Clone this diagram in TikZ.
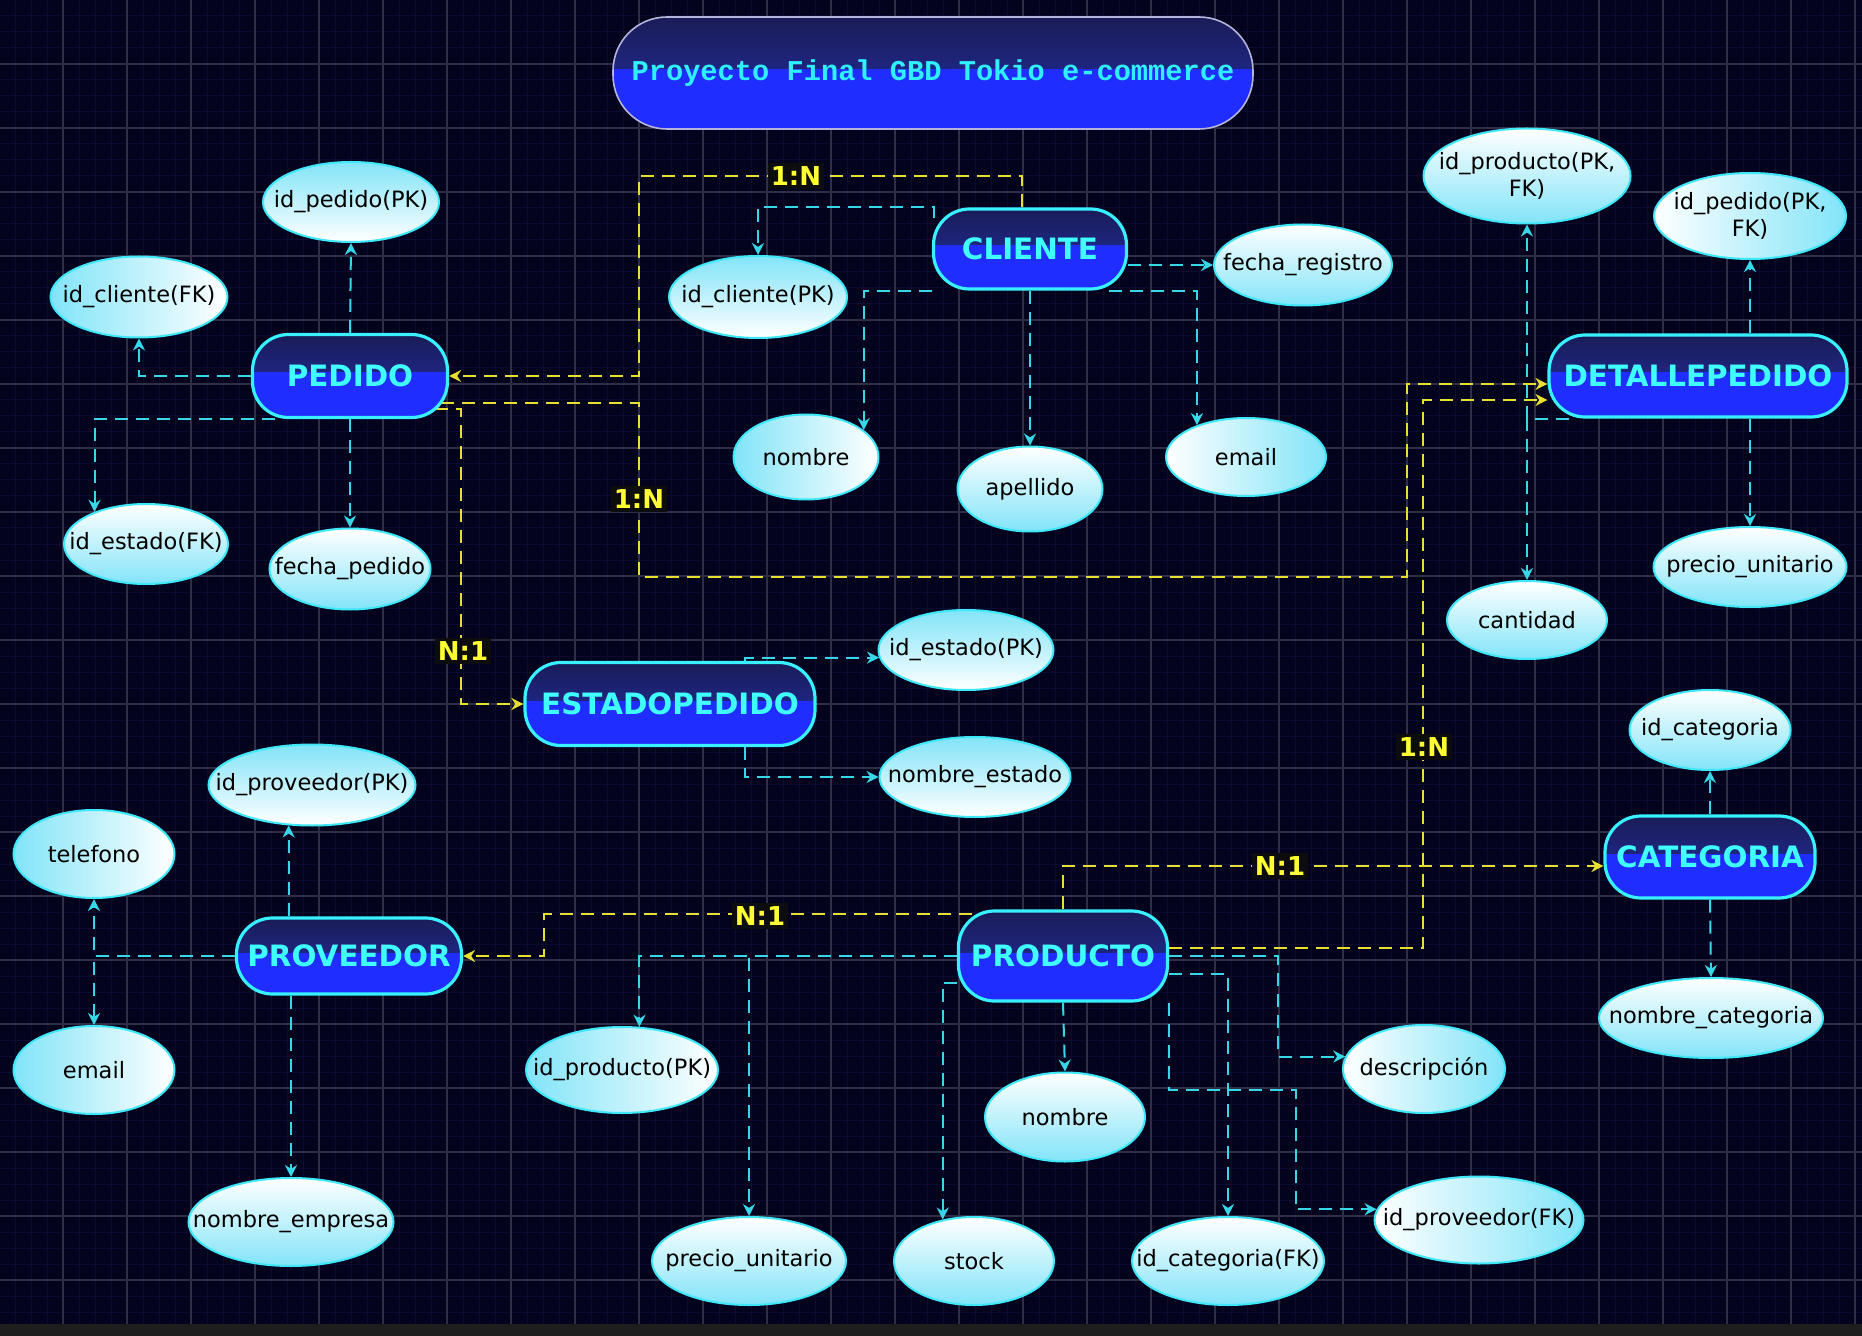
\documentclass[tikz,border=0pt]{standalone}
\usepackage{fontspec}
\setmainfont{DejaVu Sans}
\newfontfamily\monofuente{Liberation Mono}
\usetikzlibrary{shapes.geometric,arrows.meta,calc}

\definecolor{fondo}{HTML}{03031E}
\definecolor{gridfuerte}{HTML}{2E2E46}
\definecolor{gridsuave}{HTML}{0C0C32}
\definecolor{barra}{HTML}{1E1E1E}
\definecolor{entazul}{HTML}{1F2DFF}
\definecolor{entarriba}{HTML}{1A1C58}
\definecolor{entmedio}{HTML}{2430AC}
\definecolor{entborde}{HTML}{38F0FF}
\definecolor{enttexto}{HTML}{40FFFF}
\definecolor{cianattr}{HTML}{82E4F8}
\definecolor{bordeattr}{HTML}{3EE8F8}
\definecolor{enlacecian}{HTML}{36D8E8}
\definecolor{enlaceamarillo}{HTML}{E8E030}
\definecolor{textoamarillo}{HTML}{FFFF33}
\definecolor{bordetitulo}{HTML}{B4B4DC}
\definecolor{textotitulo}{HTML}{30F0FF}

\pgfdeclarelayer{capagrid}
\pgfdeclarelayer{capaenlaces}
\pgfsetlayers{capagrid,capaenlaces,main}

\tikzset{
  brillo/.style={path picture={\shade[top color=entarriba, bottom color=entmedio, sharp corners]
      (path picture bounding box.north west) rectangle ([yshift=2pt]path picture bounding box.east);}},
  entidad/.style={rectangle, rounded corners=18pt, fill=entazul, draw=entborde, line width=1.6pt,
      text=enttexto, inner sep=2pt, font=\bfseries\fontsize{14.7pt}{16pt}\selectfont, brillo},
  cajatitulo/.style={rectangle, rounded corners=27pt, fill=entazul, draw=bordetitulo, line width=0.8pt,
      text=textotitulo, font=\monofuente\bfseries\fontsize{14.35pt}{16pt}\selectfont, brillo},
  atributo/.style={ellipse, draw=bordeattr, line width=1pt, inner xsep=-30pt, inner ysep=-12pt,
      text=black, align=center, font=\fontsize{11.25pt}{13.5pt}\selectfont},
  dim/.style 2 args={minimum width=#1, minimum height=#2},
  cianarriba/.style={top color=cianattr, bottom color=white},
  cianabajo/.style={top color=white, bottom color=cianattr},
  cianizq/.style={left color=cianattr, right color=white},
  ciander/.style={left color=white, right color=cianattr},
  enlace/.style={draw=enlacecian, line width=1pt, dash pattern=on 6.5pt off 4pt,
      -{Stealth[length=6pt,width=6pt]}},
  relacion/.style={draw=enlaceamarillo, line width=1pt, dash pattern=on 6.5pt off 4pt,
      -{Stealth[length=6pt,width=6pt]}},
  etiqueta/.style={fill=black!95, text=textoamarillo, inner xsep=1.5pt, inner ysep=2pt,
      font=\bfseries\fontsize{13pt}{13pt}\selectfont}
}

\begin{document}
\begin{tikzpicture}[x=0.5pt,y=-0.5pt]
  \useasboundingbox (0,0) rectangle (1862,1336);

  % Fondo y cuadricula
  \begin{pgfonlayer}{capagrid}
    \fill[fondo] (0,0) rectangle (1862,1336);
    \foreach \gx in {15,31,...,1855}
      \draw[gridsuave, line width=0.5pt] (\gx,0) -- (\gx,1324);
    \foreach \gy in {16,32,...,1312}
      \draw[gridsuave, line width=0.5pt] (0,\gy) -- (1862,\gy);
    \foreach \gx in {63,127,...,1855}
      \draw[gridfuerte, line width=0.6pt] (\gx,0) -- (\gx,1324);
    \foreach \gy in {64,128,...,1280}
      \draw[gridfuerte, line width=0.6pt] (0,\gy) -- (1862,\gy);
    \fill[barra] (0,1324) rectangle (1862,1336);
  \end{pgfonlayer}

  % Titulo
  \node[cajatitulo, dim={320pt}{56pt}] (titulo) at (933,73) {Proyecto Final GBD Tokio e-commerce};

  % Entidades
  \node[entidad, dim={96.5pt}{40pt}] (cliente) at (1030,249) {CLIENTE};
  \node[entidad, dim={97.5pt}{41.5pt}] (pedido) at (350,376) {PEDIDO};
  \node[entidad, dim={149pt}{41pt}] (detallepedido) at (1698,376) {DETALLEPEDIDO};
  \node[entidad, dim={145pt}{41.5pt}] (estadopedido) at (670,704) {ESTADOPEDIDO};
  \node[entidad, dim={105pt}{41pt}] (categoria) at (1710,857) {CATEGORIA};
  \node[entidad, dim={112.5pt}{38pt}] (proveedor) at (349,956) {PROVEEDOR};
  \node[entidad, dim={104.5pt}{45pt}] (producto) at (1063,956) {PRODUCTO};

  % Atributos de PEDIDO
  \node[atributo, cianarriba, dim={88pt}{40pt}] (idpedidopk) at (351,202) {id\_pedido(PK)};
  \node[atributo, cianizq, dim={88.5pt}{40.5pt}] (idclientefk) at (139,297) {id\_cliente(FK)};
  \node[atributo, cianabajo, dim={82pt}{40pt}] (idestadofk) at (146,544) {id\_estado(FK)};
  \node[atributo, cianabajo, dim={80.5pt}{40.5pt}] (fechapedido) at (350,569) {fecha\_pedido};

  % Atributos de CLIENTE
  \node[atributo, cianarriba, dim={89pt}{41pt}] (idclientepk) at (758,297) {id\_cliente(PK)};
  \node[atributo, cianizq, dim={72.5pt}{42.5pt}] (nombrecli) at (806,457) {nombre};
  \node[atributo, cianabajo, dim={72.5pt}{42.5pt}] (apellido) at (1030,489) {apellido};
  \node[atributo, ciander, dim={80pt}{39pt}] (emailcli) at (1246,457) {email};
  \node[atributo, cianabajo, dim={89pt}{40.5pt}] (fecharegistro) at (1303,265) {fecha\_registro};

  % Atributos de DETALLEPEDIDO
  \node[atributo, cianabajo, dim={103.5pt}{47.5pt}] (idproductofk) at (1527,176) {id\_producto(PK,\\FK)};
  \node[atributo, ciander, dim={96pt}{43pt}] (idpedidofk) at (1750,216) {id\_pedido(PK,\\FK)};
  \node[atributo, cianabajo, dim={80pt}{39pt}] (cantidad) at (1527,620) {cantidad};
  \node[atributo, cianabajo, dim={96.5pt}{40pt}] (preciodet) at (1750,567) {precio\_unitario};

  % Atributos de ESTADOPEDIDO
  \node[atributo, cianarriba, dim={87.5pt}{40pt}] (idestadopk) at (966,650) {id\_estado(PK)};
  \node[atributo, cianarriba, dim={95.5pt}{40pt}] (nombreestado) at (975,777) {nombre\_estado};

  % Atributos de CATEGORIA
  \node[atributo, cianabajo, dim={80.5pt}{40pt}] (idcategoria) at (1710,730) {id\_categoria};
  \node[atributo, cianabajo, dim={112pt}{40pt}] (nombrecategoria) at (1711,1018) {nombre\_categoria};

  % Atributos de PROVEEDOR
  \node[atributo, cianarriba, dim={103.5pt}{40.5pt}] (idproveedorpk) at (312,785) {id\_proveedor(PK)};
  \node[atributo, cianizq, dim={80.5pt}{44pt}] (telefono) at (94,854) {telefono};
  \node[atributo, cianizq, dim={80.5pt}{44pt}] (emailprov) at (94,1070) {email};
  \node[atributo, cianabajo, dim={102.5pt}{44pt}] (nombreempresa) at (291,1222) {nombre\_empresa};

  % Atributos de PRODUCTO
  \node[atributo, cianizq, dim={96pt}{43pt}] (idproductopk) at (622,1070) {id\_producto(PK)};
  \node[atributo, cianabajo, dim={97pt}{44pt}] (precioprod) at (749,1261) {precio\_unitario};
  \node[atributo, cianabajo, dim={80pt}{44pt}] (stock) at (974,1261) {stock};
  \node[atributo, cianabajo, dim={80pt}{44.5pt}] (nombreprod) at (1065,1117) {nombre};
  \node[atributo, cianabajo, dim={96pt}{44pt}] (idcategoriafk) at (1228,1261) {id\_categoria(FK)};
  \node[atributo, ciander, dim={81pt}{44pt}] (descripcion) at (1424,1069) {descripción};
  \node[atributo, ciander, dim={104.5pt}{43.5pt}] (idproveedorfk) at (1479,1220) {id\_proveedor(FK)};

  % Puntos de quiebre de las relaciones
  \coordinate (quiebreA) at (639,176);
  \coordinate (quiebreB) at (639,577);
  \coordinate (quiebreC) at (1407,384);
  \coordinate (quiebreD) at (1423,400);

  \begin{pgfonlayer}{capaenlaces}
    % Enlaces a atributos
    \draw[enlace] (pedido.north) -- (idpedidopk.south);
    \draw[enlace] (pedido.west) -| (idclientefk.south);
    \draw[enlace] ($(pedido.south)+(-75,0)$) -| (idestadofk.148);
    \draw[enlace] (pedido.south) -- (fechapedido.north);

    \draw[enlace] ($(cliente.north west)+(2,11)$) -- ($(cliente.north west)+(2,0)$) -| (idclientepk.north);
    \draw[enlace] (cliente.south west) -| (nombrecli.25);
    \draw[enlace] (cliente.south) -- (apellido.north);
    \draw[enlace] ($(cliente.south east)+(-19,0)$) -| (emailcli.147);
    \draw[enlace] (cliente.east |- fecharegistro.west) -- (fecharegistro.west);

    \draw[enlace] ($(detallepedido.south west)+(22,0)$) -| (idproductofk.south);
    \draw[enlace] ($(detallepedido.south west)+(22,0)$) -| (cantidad.north);
    \draw[enlace] (detallepedido.north -| idpedidofk.south) -- (idpedidofk.south);
    \draw[enlace] (detallepedido.south -| preciodet.north) -- (preciodet.north);

    \draw[enlace] ($(estadopedido.north east)+(-72,0)$) |- (idestadopk.185);
    \draw[enlace] ($(estadopedido.south east)+(-72,0)$) |- (nombreestado.west);

    \draw[enlace] (categoria.north) -- (idcategoria.south);
    \draw[enlace] (categoria.south) -- (nombrecategoria.north);

    \draw[enlace] (proveedor.north -| idproveedorpk.-120) -- (idproveedorpk.-120);
    \draw[enlace] (proveedor.west) -| (telefono.south);
    \draw[enlace] (proveedor.west) -| (emailprov.north);
    \draw[enlace] (proveedor.south -| nombreempresa.north) -- (nombreempresa.north);

    \draw[enlace] (producto.west) -| (idproductopk.68);
    \draw[enlace] (producto.west) -| (precioprod.north);
    \draw[enlace] ($(producto.south west)+(0,-20)$) -| (stock.127);
    \draw[enlace] (producto.south) -- (nombreprod.north);
    \draw[enlace] (producto.east) -| ($(descripcion.171)+(-67,0)$) -- (descripcion.171);
    \draw[enlace] ($(producto.east)+(0,18)$) -| (idcategoriafk.north);
    \draw[enlace] (producto.south east) |- ($(idproveedorfk.174)+(-81,-119)$) |- (idproveedorfk.174);

    % Relaciones
    \draw[relacion] ($(cliente.north)+(-8,0)$) |- (quiebreA) |- (pedido.east);
    \draw[relacion] ($(pedido.south east)+(-8,-16)$) -| (quiebreB) -| (quiebreC) -- (quiebreC -| detallepedido.west);
    \draw[relacion] ($(pedido.south east)+(-14,-10)$) -| ($(estadopedido.west)+(-62,0)$) -- (estadopedido.west);
    \draw[relacion] ($(producto.east)+(0,-8)$) -| (quiebreD) -- (quiebreD -| detallepedido.west);
    \draw[relacion] (producto.north) |- ($(categoria.west)+(0,9)$);
    \draw[relacion] ($(producto.north west)+(36,5)$) -| ($(proveedor.east)+(81,0)$) -- (proveedor.east);
  \end{pgfonlayer}

  % Cardinalidades
  \node[etiqueta] (card1) at (796,176) {1:N};
  \node[etiqueta] (card2) at (639,499) {1:N};
  \node[etiqueta] (card3) at (463,651) {N:1};
  \node[etiqueta] (card4) at (1424,747) {1:N};
  \node[etiqueta] (card5) at (1280,866) {N:1};
  \node[etiqueta] (card6) at (760,916) {N:1};

\end{tikzpicture}
\end{document}
